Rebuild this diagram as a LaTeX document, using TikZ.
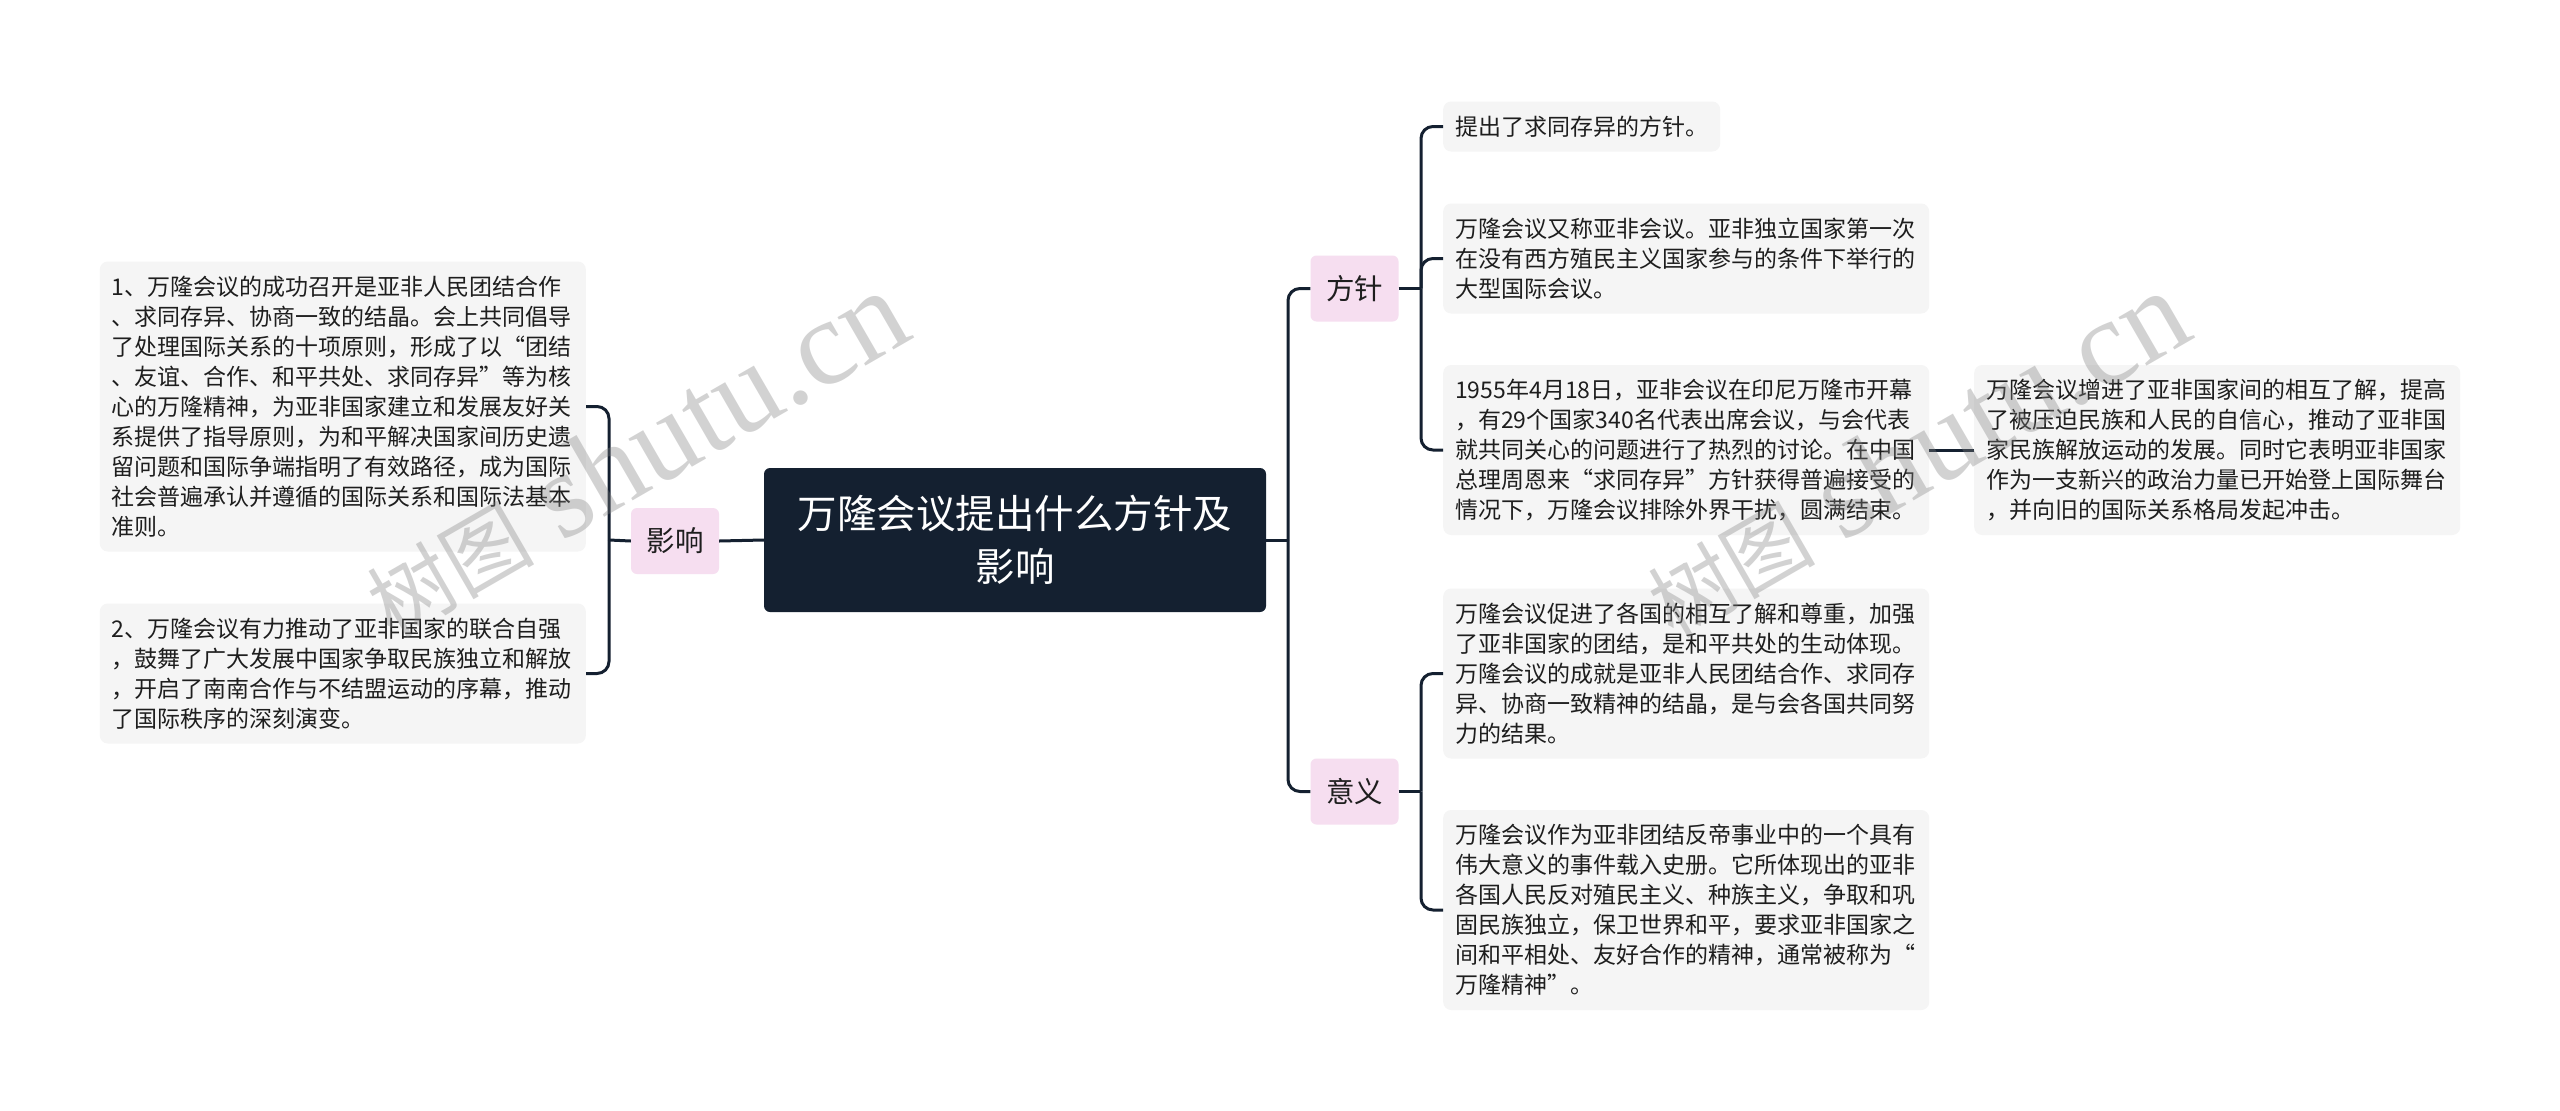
\documentclass[tikz,border=0pt]{standalone}
\usepackage{fontspec}
\setmainfont{Noto Sans CJK SC}
\newfontfamily\wmlatin{Liberation Serif}
\definecolor{navy}{RGB}{20,32,48}
\definecolor{pinkc}{RGB}{246,222,240}
\definecolor{leafc}{RGB}{245,245,245}
\definecolor{textc}{RGB}{30,30,30}
\tikzset{
  rootbox/.style={fill=navy, rounded corners=6pt, minimum width=502pt, minimum height=144pt,
    inner sep=0pt, text=white, align=center, font=\fontsize{39.5}{53}\selectfont},
  topic/.style={fill=pinkc, rounded corners=6pt, minimum width=88pt, minimum height=66pt,
    inner sep=0pt, text=textc, font=\fontsize{28.5}{34}\selectfont},
  leaf/.style={fill=leafc, rounded corners=8pt, inner xsep=12pt, inner ysep=0pt,
    text width=462pt, align=left, text=textc, font=\fontsize{23}{30}\selectfont, anchor=west},
  leafL/.style={leaf, anchor=east},
  conn/.style={draw=navy, line width=3pt, rounded corners=12pt},
  wm/.style={text=black!50, opacity=0.35, font=\fontsize{122}{130}\selectfont, inner sep=0pt}
}
\begin{document}
\begin{tikzpicture}[x=1pt,y=-1pt]
\useasboundingbox (0,0) rectangle (2560,1111);
\fill[white] (0,0) rectangle (2560,1111);

\node[rootbox] (root) at (1015,540) {万隆会议提出什么方针及\\影响};
\node[topic] (yx) at (675,541) {影响};
\node[topic] (fz) at (1354.5,288.5) {方针};
\node[topic] (yy) at (1354.5,791.5) {意义};

\node[leafL, minimum height=290pt] (b1) at (586,406.5) {1、万隆会议的成功召开是亚非人民团结合作\\
、求同存异、协商一致的结晶。会上共同倡导\\
了处理国际关系的十项原则，形成了以“团结\\
、友谊、合作、和平共处、求同存异”等为核\\
心的万隆精神，为亚非国家建立和发展友好关\\
系提供了指导原则，为和平解决国家间历史遗\\
留问题和国际争端指明了有效路径，成为国际\\
社会普遍承认并遵循的国际关系和国际法基本\\
准则。};
\node[leafL, minimum height=140pt] (b2) at (586,673.5) {2、万隆会议有力推动了亚非国家的联合自强\\
，鼓舞了广大发展中国家争取民族独立和解放\\
，开启了南南合作与不结盟运动的序幕，推动\\
了国际秩序的深刻演变。};

\node[leaf, text width=253pt, minimum height=50pt] (l1) at (1443,126.5) {提出了求同存异的方针。};
\node[leaf, minimum height=110pt] (l2) at (1443,258.5) {万隆会议又称亚非会议。亚非独立国家第一次\\
在没有西方殖民主义国家参与的条件下举行的\\
大型国际会议。};
\node[leaf, minimum height=170pt] (l3) at (1443,450) {1955年4月18日，亚非会议在印尼万隆市开幕\\
，有29个国家340名代表出席会议，与会代表\\
就共同关心的问题进行了热烈的讨论。在中国\\
总理周恩来“求同存异”方针获得普遍接受的\\
情况下，万隆会议排除外界干扰，圆满结束。};
\node[leaf, minimum height=170pt] (l3c) at (1974,450) {万隆会议增进了亚非国家间的相互了解，提高\\
了被压迫民族和人民的自信心，推动了亚非国\\
家民族解放运动的发展。同时它表明亚非国家\\
作为一支新兴的政治力量已开始登上国际舞台\\
，并向旧的国际关系格局发起冲击。};
\node[leaf, minimum height=170pt] (l4) at (1443,673.5) {万隆会议促进了各国的相互了解和尊重，加强\\
了亚非国家的团结，是和平共处的生动体现。\\
万隆会议的成就是亚非人民团结合作、求同存\\
异、协商一致精神的结晶，是与会各国共同努\\
力的结果。};
\node[leaf, minimum height=200pt] (l5) at (1443,910) {万隆会议作为亚非团结反帝事业中的一个具有\\
伟大意义的事件载入史册。它所体现出的亚非\\
各国人民反对殖民主义、种族主义，争取和巩\\
固民族独立，保卫世界和平，要求亚非国家之\\
间和平相处、友好合作的精神，通常被称为“\\
万隆精神”。};

\coordinate (jr) at (1288,540);
\coordinate (jl) at (609,540);
\coordinate (jf) at (1421,288.5);
\coordinate (jy) at (1421,791.5);

\draw[conn] (root.east) -- (jr);
\draw[conn] (jr) |- (fz.west);
\draw[conn] (jr) |- (yy.west);
\draw[conn] (root.west) -- (yx.east);
\draw[conn] (yx.west) -- (jl);
\draw[conn] (jl) |- (b1.east);
\draw[conn] (jl) |- (b2.east);
\draw[conn] (fz.east) -- (jf);
\draw[conn] (jf) |- (l1.west);
\draw[conn] (jf) |- (l2.west);
\draw[conn] (jf) |- (l3.west);
\draw[conn] (yy.east) -- (jy);
\draw[conn] (jy) |- (l4.west);
\draw[conn] (jy) |- (l5.west);
\draw[conn] (l3.east) -- (l3c.west);

\node[wm, anchor=base west, rotate=30] (wm1) at (392,640) {{\fontsize{84}{90}\selectfont 树图} {\wmlatin shutu.cn}};
\node[wm, anchor=base west, rotate=30] (wm2) at (1673,640) {{\fontsize{84}{90}\selectfont 树图} {\wmlatin shutu.cn}};
\end{tikzpicture}
\end{document}
